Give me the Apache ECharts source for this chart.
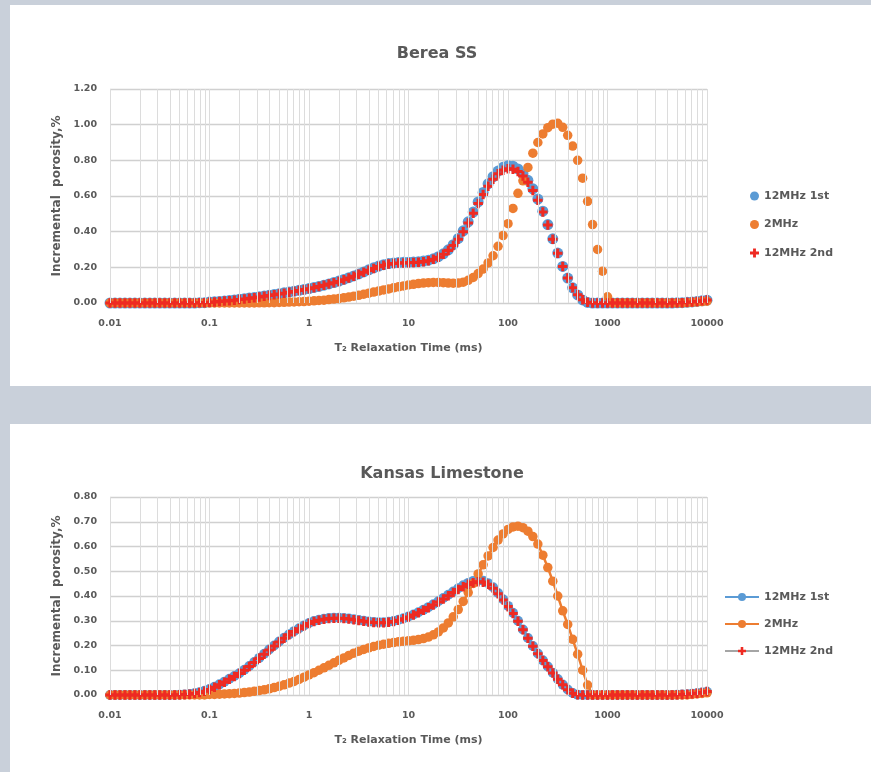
<!DOCTYPE html>
<html><head><meta charset="utf-8">
<script src="https://cdn.jsdelivr.net/npm/echarts/dist/echarts.min.js"></script>
<style>
html,body{margin:0;padding:0;width:871px;height:772px;background:#c9d0da;overflow:hidden;}
.panel{position:absolute;background:#fff;}
#c1{position:absolute;left:0;top:0;width:871px;height:400px;}
#c2{position:absolute;left:0;top:400px;width:871px;height:372px;}
</style></head><body>
<div class="panel" style="left:10px;top:5px;width:861px;height:381px"></div>
<div class="panel" style="left:10px;top:424px;width:861px;height:348px"></div>
<div id="c1"></div><div id="c2"></div>
<script>
// T2 relaxation time bins (ms)
const t2 = [0.01,0.01122,0.01259,0.01413,0.01585,0.01778,0.01995,0.02239,0.02512,0.02818,0.03162,0.03548,0.03981,0.04467,0.05012,0.05623,0.0631,0.07079,0.07943,0.08913,
0.1,0.1122,0.1259,0.1413,0.1585,0.1778,0.1995,0.2239,0.2512,0.2818,0.3162,0.3548,0.3981,0.4467,0.5012,0.5623,0.631,0.7079,0.7943,0.8913,
1,1.122,1.259,1.413,1.585,1.778,1.995,2.239,2.512,2.818,3.162,3.548,3.981,4.467,5.012,5.623,6.31,7.079,7.943,8.913,
10,11.22,12.59,14.13,15.85,17.78,19.95,22.39,25.12,28.18,31.62,35.48,39.81,44.67,50.12,56.23,63.1,70.79,79.43,89.13,
100,112.2,125.9,141.3,158.5,177.8,199.5,223.9,251.2,281.8,316.2,354.8,398.1,446.7,501.2,562.3,631,707.9,794.3,891.3,
1000,1122,1259,1413,1585,1778,1995,2239,2512,2818,3162,3548,3981,4467,5012,5623,6310,7079,7943,8913,
10000];

const seriesNames = ['12MHz 1st','2MHz','12MHz 2nd'];

// Berea SS
const berea12a = [0,0,0,0,0,0,0,0,0,0,0,0,0,0,0,0,0,0,0.001,0.002,
0.005,0.007,0.009,0.011,0.014,0.017,0.021,0.024,0.028,0.031,0.035,0.039,0.043,0.048,0.052,0.057,0.061,0.066,0.071,0.076,
0.081,0.087,0.093,0.1,0.107,0.115,0.123,0.132,0.142,0.152,0.163,0.174,0.186,0.197,0.207,0.215,0.221,0.225,0.227,0.228,
0.229,0.23,0.232,0.235,0.24,0.248,0.26,0.276,0.298,0.327,0.362,0.405,0.455,0.51,0.567,0.62,0.668,0.708,0.74,0.761,
0.77,0.767,0.752,0.725,0.688,0.64,0.583,0.515,0.44,0.36,0.28,0.205,0.14,0.085,0.045,0.017,0.003,0,0,0,
0,0,0,0,0,0,0,0,0,0,0,0,0,0,0.001,0.002,0.004,0.006,0.009,0.012,
0.016];
const berea2 = [0,0,0,0,0,0,0,0,0,0,0,0,0,0,0,0,0,0,0,0,
0,0,0,0,0,0,0,0,0,0,0.001,0.001,0.002,0.002,0.003,0.004,0.005,0.006,0.007,0.008,
0.01,0.012,0.014,0.016,0.019,0.022,0.025,0.029,0.033,0.038,0.043,0.049,0.055,0.061,0.067,0.073,0.079,0.085,0.091,0.096,
0.101,0.105,0.109,0.112,0.114,0.115,0.115,0.114,0.112,0.111,0.112,0.117,0.127,0.143,0.165,0.19,0.225,0.265,0.318,0.378,
0.445,0.53,0.615,0.685,0.76,0.84,0.9,0.948,0.983,1.003,1.008,0.985,0.94,0.88,0.8,0.7,0.57,0.44,0.3,0.178,
0.035,0,0,0,0,0,0,0,0,0,0,0,0,0,0,0,0.002,0.004,0.006,0.008,
0.01];
const berea12b = [0,0,0,0,0,0,0,0,0,0,0,0,0,0,0,0,0,0,0.001,0.002,
0.004,0.006,0.008,0.011,0.013,0.016,0.02,0.023,0.027,0.03,0.034,0.038,0.042,0.046,0.051,0.055,0.06,0.065,0.07,0.075,
0.08,0.086,0.092,0.099,0.106,0.113,0.121,0.13,0.14,0.15,0.161,0.172,0.183,0.194,0.204,0.212,0.218,0.222,0.224,0.225,
0.226,0.227,0.229,0.232,0.237,0.245,0.257,0.273,0.295,0.323,0.358,0.4,0.449,0.503,0.558,0.609,0.655,0.694,0.725,0.745,
0.753,0.75,0.737,0.712,0.677,0.631,0.576,0.51,0.437,0.358,0.279,0.205,0.14,0.086,0.046,0.018,0.004,0,0,0,
0,0,0,0,0,0,0,0,0,0,0,0,0,0,0.001,0.002,0.004,0.006,0.009,0.012,
0.017];

// Kansas Limestone
const kansas12a = [0,0,0,0,0,0,0,0,0,0,0,0,0,0,0.001,0.002,0.004,0.007,0.011,0.017,
0.024,0.033,0.043,0.054,0.066,0.077,0.088,0.102,0.117,0.133,0.15,0.167,0.184,0.2,0.216,0.231,0.245,0.258,0.27,0.281,
0.291,0.299,0.304,0.308,0.311,0.312,0.312,0.311,0.309,0.306,0.303,0.3,0.297,0.295,0.294,0.294,0.296,0.299,0.304,0.31,
0.317,0.325,0.334,0.344,0.355,0.367,0.379,0.392,0.405,0.418,0.431,0.443,0.453,0.461,0.465,0.462,0.452,0.435,0.412,0.387,
0.36,0.332,0.3,0.265,0.23,0.198,0.168,0.14,0.115,0.09,0.065,0.042,0.022,0.008,0.001,0,0,0,0,0,
0,0,0,0,0,0,0,0,0,0,0,0,0,0,0.001,0.002,0.003,0.005,0.007,0.01,
0.013];
const kansas2 = [0,0,0,0,0,0,0,0,0,0,0,0,0,0,0,0,0,0,0,0,
0.002,0.002,0.003,0.004,0.005,0.006,0.008,0.01,0.012,0.015,0.018,0.021,0.025,0.03,0.035,0.041,0.048,0.055,0.063,0.072,
0.081,0.09,0.1,0.11,0.12,0.13,0.14,0.15,0.16,0.169,0.177,0.184,0.19,0.196,0.201,0.205,0.209,0.212,0.215,0.217,
0.219,0.221,0.224,0.228,0.234,0.243,0.255,0.271,0.291,0.316,0.345,0.378,0.414,0.451,0.489,0.526,0.562,0.596,0.626,0.651,
0.669,0.679,0.682,0.676,0.662,0.64,0.61,0.565,0.515,0.46,0.4,0.34,0.285,0.225,0.165,0.1,0.04,0,0,0,
0,0,0,0,0,0,0,0,0,0,0,0,0,0,0,0,0,0.002,0.004,0.006,
0.009];
const kansas12b = [0,0,0,0,0,0,0,0,0,0,0,0,0,0,0.001,0.002,0.003,0.006,0.01,0.015,
0.022,0.031,0.041,0.052,0.064,0.075,0.087,0.1,0.115,0.131,0.148,0.165,0.182,0.198,0.214,0.229,0.243,0.256,0.268,0.279,
0.289,0.297,0.302,0.306,0.309,0.31,0.31,0.309,0.307,0.304,0.301,0.298,0.295,0.293,0.292,0.292,0.294,0.297,0.302,0.308,
0.315,0.323,0.332,0.342,0.353,0.364,0.376,0.388,0.401,0.414,0.426,0.437,0.447,0.454,0.458,0.456,0.447,0.431,0.409,0.384,
0.357,0.329,0.298,0.264,0.229,0.197,0.167,0.139,0.114,0.089,0.064,0.041,0.021,0.007,0.001,0,0,0,0,0,
0,0,0,0,0,0,0,0,0,0,0,0,0,0,0.001,0.002,0.003,0.005,0.007,0.01,
0.014];

// axis ticks and log gridlines
const xTickLabels = ['0.01','0.1','1','10','100','1000','10000'];
const xGridLines = [0.01,0.02,0.03,0.04,0.05,0.06,0.07,0.08,0.09,
0.1,0.2,0.3,0.4,0.5,0.6,0.7,0.8,0.9,
1,2,3,4,5,6,7,8,9,
10,20,30,40,50,60,70,80,90,
100,200,300,400,500,600,700,800,900,
1000,2000,3000,4000,5000,6000,7000,8000,9000,10000];

const FONT = '"DejaVu Sans", sans-serif';
const TXT = '#595959';
const BLUE = '#5b9bd5', ORANGE = '#ed7d31', RED = '#ee2a22', GRAY = '#a5a5a5';
const CROSS = 'path://M3.4,0H6.6V3.4H10V6.6H6.6V10H3.4V6.6H0V3.4H3.4Z';

function pts(arr){ return t2.map((x,i)=>[x, arr[i]]); }

function makeOption(cfg){
  const lineMode = cfg.mode === 'line';
  const mk = (name, arr, color, symbol, size, lineColor) => {
    const s = {
      name, type: lineMode ? 'line' : 'scatter', data: pts(arr),
      symbol, symbolSize: size, itemStyle: {color, opacity: 1},
      silent: true, animation: false
    };
    if (lineMode) {
      s.showSymbol = true; s.showAllSymbol = true;
      s.lineStyle = {color: lineColor, width: lineColor === GRAY ? 1.5 : 2.5};
    }
    return s;
  };
  return {
    animation: false,
    textStyle: {fontFamily: FONT},
    graphic: [{type:'text', x: cfg.titleX, y: cfg.titleY, silent:true,
      style:{text: cfg.title, font: 'bold 16px "DejaVu Sans"', fill: TXT,
        align:'center', verticalAlign:'middle', textAlign:'center', textVerticalAlign:'middle'}}],
    grid: {left: 110, top: cfg.gridTop, width: 597, height: cfg.gridHeight, containLabel: false},
    legend: {
      orient: 'vertical', left: cfg.legendLeft, top: cfg.legendTop, padding: 0,
      data: seriesNames, itemWidth: cfg.legendW, itemHeight: cfg.legendH, itemGap: cfg.legendGap,
      selectedMode: false,
      textStyle: {fontFamily: FONT, fontWeight: 'bold', fontSize: 11, color: TXT, lineHeight: 14}
    },
    xAxis: {
      type: 'log', logBase: 10, min: 0.01, max: 10000,
      name: 'T\u2082 Relaxation Time (ms)', nameLocation: 'middle', nameGap: 40,
      nameTextStyle: {fontFamily: FONT, fontWeight: 'bold', fontSize: 11, color: TXT},
      axisLine: {show: true, lineStyle: {color: '#cfcfcf', width: 1.2}},
      axisTick: {show: false},
      splitLine: {show: false},
      axisLabel: {margin: 16, fontFamily: FONT, fontWeight: 'bold', fontSize: 9.5, color: TXT,
        formatter: v => xTickLabels[Math.round(Math.log10(v)) + 2] || ''}
    },
    yAxis: {
      type: 'value', min: 0, max: cfg.yMax, interval: cfg.yInterval,
      name: 'Incremental  porosity,%', nameLocation: 'middle', nameGap: 47, nameRotate: 90,
      nameTextStyle: {fontFamily: FONT, fontWeight: 'bold', fontSize: 12, color: TXT},
      axisLine: {show: false}, axisTick: {show: false},
      splitLine: {show: true, lineStyle: {color: '#d0d0d0', width: 1.4}},
      axisLabel: {margin: 13, fontFamily: FONT, fontWeight: 'bold', fontSize: 9.5, color: TXT,
        formatter: v => v.toFixed(2)}
    },
    series: [
      {type: 'line', data: [], z: 1, silent: true, animation: false,
        markLine: {silent: true, animation: false, symbol: ['none','none'], label: {show: false},
          lineStyle: {type: 'solid', color: '#dcdcdc', width: 1},
          emphasis: {disabled: true},
          data: xGridLines.map(v => ({xAxis: v}))}},
      mk(seriesNames[0], cfg.a, BLUE, 'circle', cfg.sizeA, BLUE),
      mk(seriesNames[1], cfg.b, ORANGE, 'circle', cfg.sizeB, ORANGE),
      mk(seriesNames[2], cfg.c, RED, CROSS, cfg.sizeC, GRAY)
    ]
  };
}

const ch1 = echarts.init(document.getElementById('c1'), null, {renderer: 'canvas'});
ch1.setOption(makeOption({
  title: 'Berea SS', titleX: 437, titleY: 54, mode: 'scatter',
  gridTop: 89, gridHeight: 214, yMax: 1.2, yInterval: 0.2,
  legendLeft: 750, legendTop: 189, legendW: 9, legendH: 9, legendGap: 14.5,
  a: berea12a, b: berea2, c: berea12b, sizeA: 11, sizeB: 9.5, sizeC: 9.5
}));

const ch2 = echarts.init(document.getElementById('c2'), null, {renderer: 'canvas'});
ch2.setOption(makeOption({
  title: 'Kansas Limestone', titleX: 442, titleY: 74, mode: 'line',
  gridTop: 97, gridHeight: 198, yMax: 0.8, yInterval: 0.1,
  legendLeft: 724, legendTop: 190, legendW: 34, legendH: 10, legendGap: 13,
  a: kansas12a, b: kansas2, c: kansas12b, sizeA: 10, sizeB: 9.5, sizeC: 9.5
}));
</script>
</body></html>
